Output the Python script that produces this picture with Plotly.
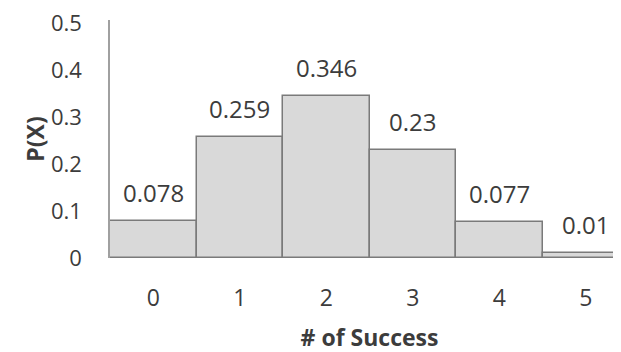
import plotly.graph_objects as go

categories = [0, 1, 2, 3, 4, 5]
probabilities = [0.078, 0.259, 0.346, 0.23, 0.077, 0.01]
value_labels = ["0.078", "0.259", "0.346", "0.23", "0.077", "0.01"]
y_ticks = [0, 0.1, 0.2, 0.3, 0.4, 0.5]
y_tick_labels = ["0", "0.1", "0.2", "0.3", "0.4", "0.5"]

font_family = "Open Sans, Liberation Sans, sans-serif"
text_color = "#3c3c3c"
fs = 23

fig = go.Figure()
fig.add_trace(go.Bar(
    x=categories,
    y=probabilities,
    width=1,
    marker=dict(color="#d9d9d9", line=dict(color="#7a7a7a", width=1.5)),
    showlegend=False,
))

for c, v, t in zip(categories, probabilities, value_labels):
    fig.add_annotation(x=c, y=v, text=t, showarrow=False, yanchor="bottom",
                       yshift=10, font=dict(size=24, color=text_color, family=font_family))

fig.update_layout(
    width=621, height=352,
    margin=dict(l=102, r=0, t=12, b=102),
    paper_bgcolor="white", plot_bgcolor="white",
    bargap=0,
    font=dict(family=font_family, size=fs, color=text_color),
)
fig.update_xaxes(
    range=[-0.5, 5.5], automargin=False,
    tickmode="array", tickvals=categories, ticktext=[str(c) for c in categories],
    showgrid=False, zeroline=False, showline=False, ticks="",
    ticklabelstandoff=24, ticklabeloverflow="allow",
    title=dict(text="<b># of Success</b>", standoff=17, font=dict(size=fs, color=text_color)),
)
fig.update_yaxes(
    range=[0, 0.508], automargin=False,
    tickmode="array", tickvals=y_ticks, ticktext=y_tick_labels,
    tickfont=dict(size=22),
    showgrid=False, zeroline=False, showline=True, linecolor="#a0a0a0", linewidth=1.5,
    ticks="", ticklabelstandoff=22, ticklabeloverflow="allow",
    title=dict(text="<b>P(X)</b>", standoff=0, font=dict(size=fs, color=text_color)),
)

fig.write_html("out.html")
